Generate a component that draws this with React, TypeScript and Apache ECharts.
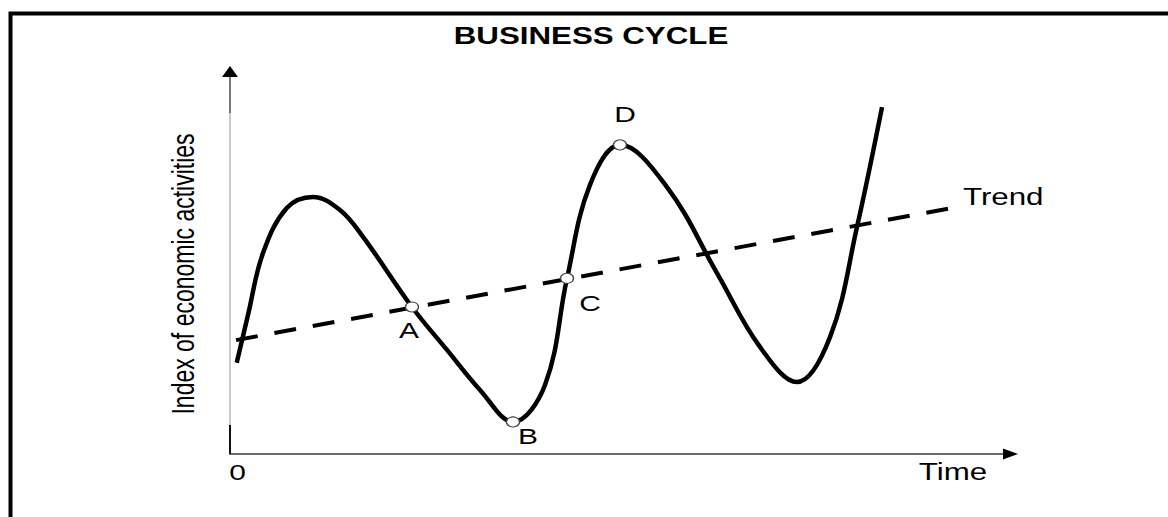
import React, { useEffect, useRef } from "react";
import * as echarts from "echarts";

// ---- Data ----
const curveX = [0.87, 2.33, 4.27, 7.37, 10.74, 14.23, 17.21, 23.54, 28.07, 32.34, 36.61, 40.75, 43.6, 46.57, 50.45, 56.53, 63.0, 68.56, 73.35, 77.62, 81.11, 84.35];
const curveY = [24.2, 36.9, 53.3, 65.3, 68.2, 64.7, 57.6, 39.0, 27.6, 17.0, 8.5, 18.3, 46.6, 71.4, 82.0, 70.8, 48.0, 28.4, 19.1, 31.0, 60.2, 92.0];
const trendX = [0.78, 94.05];
const trendY = [30.2, 65.5];
const pointNames = ["A", "B", "C", "D"];
const pointX = [23.54, 36.61, 43.6, 50.45];
const pointY = [39.0, 8.5, 46.6, 82.0];
const titleText = "BUSINESS CYCLE";
const yAxisTitle = "Index of economic activities";
const xAxisTitle = "Time";
const originLabel = "0";
const trendLabel = "Trend";

const FONT = '"Liberation Sans", Arial, sans-serif';
const STRETCH = 1.36;

export default function App() {
  const ref = useRef<HTMLDivElement>(null);
  useEffect(() => {
    if (!ref.current) return;
    const chart = echarts.init(ref.current, undefined, { renderer: "svg" });
    const option: any = {
      animation: false,
      backgroundColor: "#fff",
      grid: { left: 230, right: 165, top: 77, bottom: 63, containLabel: false },
      xAxis: {
        type: "value", min: 0, max: 100,
        axisLine: { show: true, onZero: false, lineStyle: { color: "#6a6a6a", width: 2 } },
        axisTick: { show: false }, axisLabel: { show: false }, splitLine: { show: false },
      },
      yAxis: {
        type: "value", min: 0, max: 100,
        axisLine: { show: true, onZero: false, lineStyle: { color: "#b8b8b8", width: 1.5 } },
        axisTick: { show: false }, axisLabel: { show: false }, splitLine: { show: false },
      },
      series: [
        {
          type: "line", name: "Trend",
          data: trendX.map((x, i) => [x, trendY[i]]),
          symbol: "none",
          lineStyle: { color: "#000", width: 4, type: [22, 17] },
          z: 2,
        },
        {
          type: "line", name: "Cycle",
          data: curveX.map((x, i) => [x, curveY[i]]),
          symbol: "none", smooth: 0.38,
          lineStyle: { color: "#000", width: 4.5 },
          z: 3,
        },
        {
          type: "scatter", name: "Points",
          data: pointX.map((x, i) => ({ name: pointNames[i], value: [x, pointY[i]] })),
          symbol: "circle", symbolSize: [13, 10],
          itemStyle: { color: "#fff", borderColor: "#444", borderWidth: 1.2, opacity: 1 },
          z: 4,
        },
      ],
    };
    chart.setOption(option);

    const px = (x: number, y: number) =>
      chart.convertToPixel({ xAxisIndex: 0, yAxisIndex: 0 }, [x, y]) as number[];

    const txt = (text: string, x: number, y: number, opts: any = {}) => ({
      type: "text", x, y,
      scaleX: opts.rotation ? 1 : STRETCH,
      scaleY: opts.rotation ? STRETCH : 1,
      rotation: opts.rotation || 0,
      z: 10,
      style: {
        text,
        fontFamily: FONT,
        fontSize: opts.size || 23,
        fontWeight: opts.bold ? "bold" : "normal",
        fill: "#000",
        align: opts.align || "center",
        verticalAlign: "middle",
      },
    });

    const origin = px(0, 0);
    const yTop = px(0, 100);
    const xEnd = px(100, 0);
    const offsets = [[-3, 23], [15, 15], [23, 25], [5, -30]];
    const trendEnd = px(trendX[1], trendY[1]);

    const graphic: any[] = [
      {
        type: "rect", z: 20,
        shape: { x: 10.5, y: 13.5, width: 1300, height: 700 },
        style: { fill: "none", stroke: "#000", lineWidth: 4 },
      },
      txt(titleText, 591, 36, { bold: true }),
      txt(yAxisTitle, 183, 274, { rotation: Math.PI / 2 }),
      txt(originLabel, origin[0] + 7.5, origin[1] + 18, { size: 22 }),
      txt(xAxisTitle, 953, origin[1] + 18),
      txt(trendLabel, trendEnd[0] + 6, trendEnd[1] - 10, { align: "left" }),
      {
        type: "polygon", z: 5,
        shape: { points: [[yTop[0], yTop[1] - 11], [yTop[0] - 8, yTop[1]], [yTop[0] + 8, yTop[1]]] },
        style: { fill: "#000" },
      },
      {
        type: "polygon", z: 5,
        shape: { points: [[xEnd[0] + 15, xEnd[1]], [xEnd[0], xEnd[1] - 5.5], [xEnd[0], xEnd[1] + 5.5]] },
        style: { fill: "#000" },
      },
      {
        type: "line", z: 5,
        shape: { x1: origin[0], y1: origin[1], x2: origin[0], y2: origin[1] - 29 },
        style: { stroke: "#111", lineWidth: 2 },
      },
      {
        type: "line", z: 5,
        shape: { x1: yTop[0], y1: yTop[1], x2: yTop[0], y2: yTop[1] + 36 },
        style: { stroke: "#777", lineWidth: 2 },
      },
      ...pointNames.map((n, i) => {
        const p = px(pointX[i], pointY[i]);
        return txt(n, p[0] + offsets[i][0], p[1] + offsets[i][1], { size: 22 });
      }),
    ];
    chart.setOption({ graphic });

    return () => chart.dispose();
  }, []);
  return (
    <div
      ref={ref}
      style={{ position: "fixed", left: 0, top: 0, width: 1168, height: 517, background: "#fff" }}
    />
  );
}
